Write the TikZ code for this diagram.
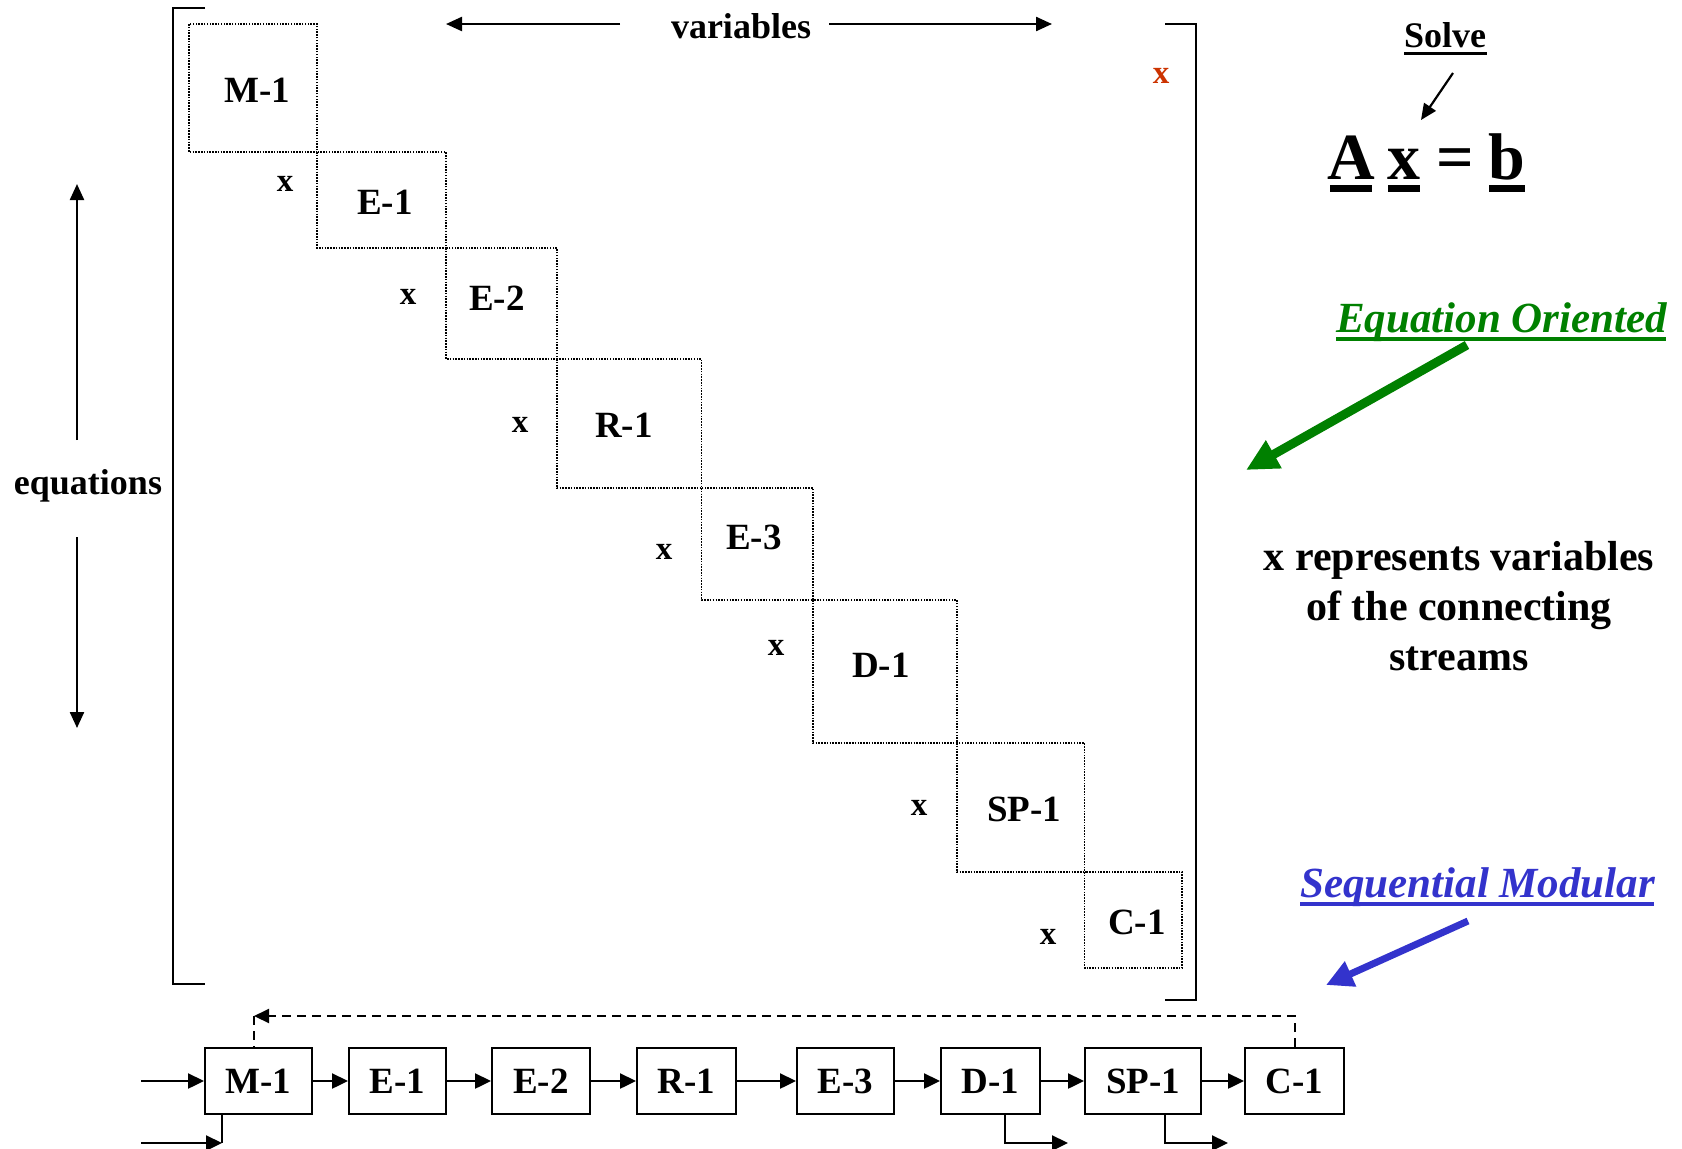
\documentclass[tikz,border=0pt]{standalone}
\usepackage{fontspec}
\setmainfont{Liberation Serif}
\usetikzlibrary{arrows.meta}
\definecolor{eogreen}{RGB}{0,128,0}
\definecolor{smblue}{RGB}{51,51,204}
\definecolor{redx}{RGB}{204,51,0}
\begin{document}
\begin{tikzpicture}[x=1pt,y=-1pt,
  lbl/.style={font=\fontsize{37}{40}\selectfont\bfseries, inner sep=0pt},
  xmark/.style={font=\fontsize{33}{36}\selectfont\bfseries, inner sep=0pt},
  head/.style={font=\fontsize{36}{40}\selectfont\bfseries, inner sep=0pt, anchor=base},
  big/.style={font=\fontsize{66}{70}\selectfont\bfseries, inner sep=0pt, anchor=base},
  cell/.style={line width=1.6pt, dash pattern=on 1.5pt off 1.3pt},
  brk/.style={line width=2pt},
  arr/.style={line width=2.4pt, -{Triangle[length=16pt,width=15pt]}},
  blk/.style={draw, line width=2pt, minimum height=66pt, inner sep=0pt,
              font=\fontsize{37}{40}\selectfont\bfseries},
  recyc/.style={line width=2pt, dash pattern=on 9pt off 6pt}
]
\useasboundingbox (0,0) rectangle (1682,1149);

% brackets
\draw[brk] (205,8) -- (173,8) -- (173,984) -- (205,984);
\draw[brk] (1165,24) -- (1196,24) -- (1196,1000) -- (1165,1000);

% dotted block cells
\draw[cell] (189,24) rectangle (317,152);
\draw[cell] (317,152) rectangle (446,248);
\draw[cell] (446,248) rectangle (557,359);
\draw[cell] (557,359) rectangle (701.5,488);
\draw[cell] (701.5,488) rectangle (813,600);
\draw[cell] (813,600) rectangle (957,743);
\draw[cell] (957,743) rectangle (1084.5,872);
\draw[cell] (1084.5,872) rectangle (1182,968);

% cell labels
\node[lbl] (mM1) at (257,90) {M-1};
\node[lbl] (mE1) at (385,202) {E-1};
\node[lbl] (mE2) at (497,298) {E-2};
\node[lbl] (mR1) at (624,425) {R-1};
\node[lbl] (mE3) at (754,537) {E-3};
\node[lbl] (mD1) at (881,665) {D-1};
\node[lbl] (mSP1) at (1024,809) {SP-1};
\node[lbl] (mC1) at (1137,922) {C-1};

% x marks
\node[xmark] (x1) at (285,184) {x};
\node[xmark] (x2) at (408,297) {x};
\node[xmark] (x3) at (520,425) {x};
\node[xmark] (x4) at (664,552) {x};
\node[xmark] (x5) at (776,648) {x};
\node[xmark] (x6) at (919,808) {x};
\node[xmark] (x7) at (1048,937) {x};
\node[xmark, text=redx] (xr) at (1161,76) {x};

% variables / equations
\node[head] (vars) at (741,38) {variables};
\coordinate (vl0) at (620,24); \coordinate (vl1) at (446,24);
\coordinate (vr0) at (829,24); \coordinate (vr1) at (1052,24);
\draw[line width=2.3pt, -{Triangle[length=16pt,width=14pt]}] (vl0) -- (vl1);
\draw[line width=2.3pt, -{Triangle[length=16pt,width=14pt]}] (vr0) -- (vr1);
\node[head] (eqs) at (88,494) {equations};
\coordinate (eu0) at (77,440); \coordinate (eu1) at (77,184);
\coordinate (ed0) at (77,537); \coordinate (ed1) at (77,728);
\draw[line width=2.3pt, -{Triangle[length=16pt,width=14pt]}] (eu0) -- (eu1);
\draw[line width=2.3pt, -{Triangle[length=16pt,width=14pt]}] (ed0) -- (ed1);

% Solve Ax=b
\node[head] (solve) at (1445,47) {Solve};
\draw[line width=3pt] (1404,53) -- (1487,53);
\coordinate (s0) at (1453,73); \coordinate (s1) at (1421,120);
\draw[line width=2.2pt, -{Triangle[length=16pt,width=14pt]}] (s0) -- (s1);
\node[big] (vA) at (1351,179) {A};
\node[big] (vx) at (1404,179) {x};
\node[big] (veq) at (1455,179) {=};
\node[big] (vb) at (1507,179) {b};
\fill (1330,185) rectangle (1372,192);
\fill (1388,185) rectangle (1420,192);
\fill (1489,185) rectangle (1525,192);

% Equation Oriented
\node[font=\fontsize{43}{46}\selectfont\bfseries\itshape, text=eogreen, inner sep=0pt, anchor=base west] (eo) at (1336,332) {Equation Oriented};
\draw[eogreen, line width=4pt] (1336,339) -- (1666,339);
\coordinate (g0) at (1467,345); \coordinate (g1) at (1246,470);
\draw[eogreen, line width=9pt, -{Triangle[length=32pt,width=30pt]}] (g0) -- (g1);

% note
\node[font=\fontsize{42}{50}\selectfont\bfseries, inner sep=0pt, align=center, anchor=base] (note) at (1459,670) {x represents variables\\of the connecting\\streams};

% Sequential Modular
\node[font=\fontsize{43}{46}\selectfont\bfseries\itshape, text=smblue, inner sep=0pt, anchor=base west] (sm) at (1300,897) {Sequential Modular};
\draw[smblue, line width=4pt] (1300,904) -- (1654,904);
\coordinate (b0) at (1468,921); \coordinate (b1) at (1326,985);
\draw[smblue, line width=7pt, -{Triangle[length=27pt,width=26pt]}] (b0) -- (b1);

% flowsheet
\node[blk, minimum width=107pt] (M1) at (258.5,1081) {M-1};
\node[blk, minimum width=97pt] (E1) at (397.5,1081) {E-1};
\node[blk, minimum width=98pt] (E2) at (541,1081) {E-2};
\node[blk, minimum width=99pt] (R1) at (686.5,1081) {R-1};
\node[blk, minimum width=97pt] (E3) at (845.5,1081) {E-3};
\node[blk, minimum width=99pt] (D1) at (990.5,1081) {D-1};
\node[blk, minimum width=116pt] (SP1) at (1143,1081) {SP-1};
\node[blk, minimum width=99pt] (C1) at (1294.5,1081) {C-1};
\draw[arr] (M1) -- (E1);
\draw[arr] (E1) -- (E2);
\draw[arr] (E2) -- (R1);
\draw[arr] (R1) -- (E3);
\draw[arr] (E3) -- (D1);
\draw[arr] (D1) -- (SP1);
\draw[arr] (SP1) -- (C1);

\coordinate (in1) at (141,1081);
\draw[arr] (in1) -- (M1);
\coordinate (in2) at (141,1143);
\coordinate (c2) at (222,1143);
\draw[arr] (in2) -- (c2);
\draw[line width=2pt] ([xshift=-36.5pt]M1.south) -- (c2);

\coordinate (o1) at (1068,1143);
\draw[arr] ([xshift=14.5pt]D1.south) |- (o1);
\coordinate (o2) at (1228,1143);
\draw[arr] ([xshift=22pt]SP1.south) |- (o2);

\coordinate (rc) at (254,1016);
\draw[recyc, -{Triangle[length=15pt,width=14pt]}] (C1.north) |- (rc);
\draw[recyc] (rc) -- (rc |- M1.north);
\end{tikzpicture}
\end{document}
